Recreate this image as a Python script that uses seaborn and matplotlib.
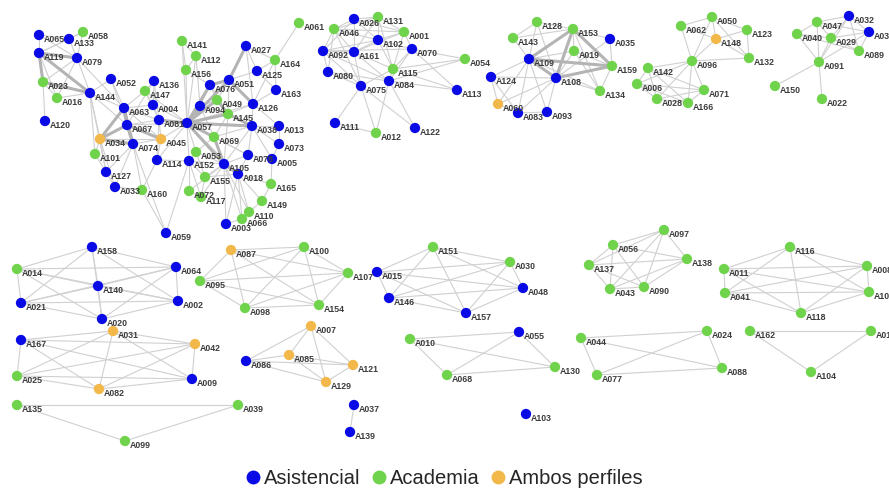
import itertools
import matplotlib
matplotlib.use("Agg")
import matplotlib.pyplot as plt
from matplotlib.collections import LineCollection
from matplotlib.lines import Line2D
import pandas as pd
import seaborn as sns

# layout of the network (node -> position in the drawing)
layout = {
    "A065": (39, 35), "A133": (69, 39), "A058": (83, 32), "A119": (39, 53), "A079": (77, 58),
    "A023": (43, 82), "A016": (57, 98), "A144": (90, 93), "A120": (45, 121), "A052": (111, 79),
    "A136": (154, 81), "A147": (145, 91), "A004": (153, 105), "A063": (124, 108), "A067": (127, 125),
    "A081": (159, 120), "A057": (187, 123), "A034": (100, 139), "A045": (161, 139), "A074": (133, 144),
    "A101": (95, 154), "A114": (157, 160), "A127": (106, 172), "A033": (115, 187), "A160": (142, 190),
    "A059": (166, 233), "A141": (182, 41), "A112": (196, 56), "A156": (186, 70), "A076": (210, 85),
    "A094": (200, 106), "A049": (217, 100), "A051": (229, 80), "A027": (246, 46), "A125": (257, 71),
    "A164": (275, 60), "A163": (276, 90), "A126": (253, 104), "A145": (228, 114), "A038": (252, 126),
    "A013": (279, 126), "A073": (279, 144), "A078": (248, 155), "A005": (272, 159), "A069": (214, 137),
    "A053": (196, 152), "A152": (189, 161), "A105": (224, 164), "A018": (238, 174), "A155": (205, 177),
    "A072": (189, 191), "A117": (201, 197), "A165": (271, 184), "A149": (262, 201), "A110": (249, 212),
    "A066": (242, 219), "A003": (226, 224), "A061": (299, 23),
    "A046": (334, 29), "A026": (354, 19), "A131": (378, 17), "A001": (404, 32), "A102": (378, 40),
    "A092": (323, 51), "A161": (354, 52), "A070": (412, 49), "A080": (328, 72), "A115": (393, 69),
    "A084": (389, 81), "A075": (361, 86), "A111": (335, 123), "A012": (376, 133), "A122": (415, 128),
    "A054": (465, 59), "A113": (457, 90),
    "A128": (537, 22), "A153": (573, 29), "A143": (513, 38), "A035": (610, 39), "A019": (574, 51),
    "A109": (529, 59), "A159": (612, 66), "A124": (491, 77), "A108": (556, 78), "A134": (600, 91),
    "A060": (498, 104), "A083": (518, 113), "A093": (547, 112),
    "A050": (712, 17), "A062": (681, 26), "A123": (747, 30), "A148": (716, 39), "A132": (749, 58),
    "A096": (692, 61), "A142": (648, 68), "A006": (637, 84), "A028": (657, 99), "A166": (688, 103),
    "A071": (704, 90),
    "A047": (817, 22), "A032": (849, 16), "A040": (797, 34), "A029": (831, 38), "A036": (869, 32),
    "A089": (859, 51), "A091": (819, 62), "A150": (775, 86), "A022": (822, 99),
    "A158": (92, 247), "A014": (17, 269), "A064": (176, 267), "A140": (98, 286), "A021": (21, 303),
    "A002": (178, 301), "A020": (102, 319), "A031": (113, 331), "A167": (21, 340), "A042": (195, 344),
    "A025": (17, 376), "A009": (192, 379), "A082": (99, 389), "A135": (17, 405), "A099": (125, 441),
    "A039": (238, 405), "A087": (231, 250), "A100": (304, 247), "A107": (348, 273), "A095": (200, 281),
    "A098": (245, 308), "A154": (319, 305), "A007": (311, 326), "A085": (289, 355), "A086": (246, 361),
    "A121": (353, 365), "A129": (326, 382), "A037": (354, 405), "A139": (350, 432), "A015": (377, 272),
    "A146": (389, 298), "A151": (433, 247), "A030": (510, 262), "A048": (523, 288), "A157": (466, 313),
    "A010": (410, 339), "A055": (519, 332), "A068": (447, 375), "A130": (555, 367), "A103": (526, 414),
    "A056": (613, 245), "A137": (589, 265), "A043": (610, 289), "A090": (644, 287), "A097": (664, 230),
    "A138": (687, 259), "A044": (581, 338), "A077": (597, 375), "A024": (707, 331), "A088": (722, 368),
    "A011": (724, 269), "A041": (725, 293), "A116": (790, 247), "A008": (867, 266), "A106": (869, 292),
    "A118": (801, 313), "A162": (750, 331), "A017": (871, 331), "A104": (811, 372),
}

asistencial = [
    "A065", "A133", "A119", "A079", "A144", "A120", "A052", "A136", "A004", "A063", "A067", "A081",
    "A057", "A074", "A114", "A127", "A033", "A059", "A076", "A094", "A051", "A027", "A125", "A163",
    "A126", "A038", "A013", "A073", "A078", "A005", "A152", "A105", "A018", "A003",
    "A026", "A102", "A092", "A161", "A070", "A080", "A084", "A075", "A111", "A122", "A113",
    "A035", "A109", "A124", "A108", "A083", "A093", "A032", "A036",
    "A158", "A064", "A140", "A021", "A002", "A020", "A167", "A009", "A086", "A037", "A139",
    "A015", "A146", "A048", "A157", "A055", "A103",
]
ambos = ["A034", "A045", "A060", "A148", "A031", "A042", "A082", "A087", "A007", "A085", "A121", "A129"]

# strong ties in the large component
thick_edges = [
    ("A119", "A079"), ("A119", "A023"), ("A119", "A144"), ("A023", "A144"),
    ("A063", "A067"), ("A063", "A034"), ("A063", "A074"), ("A067", "A034"), ("A067", "A074"),
    ("A067", "A045"), ("A034", "A074"), ("A081", "A057"), ("A057", "A094"), ("A057", "A076"),
    ("A057", "A051"), ("A057", "A049"), ("A057", "A145"), ("A057", "A038"), ("A057", "A069"),
    ("A057", "A105"), ("A076", "A051"), ("A051", "A027"), ("A051", "A126"), ("A049", "A145"),
    ("A145", "A038"), ("A069", "A105"), ("A105", "A018"),
    ("A153", "A109"), ("A153", "A108"), ("A153", "A159"), ("A109", "A108"), ("A109", "A159"),
    ("A108", "A159"),
]

edges = [
    ("A065", "A133"), ("A065", "A119"), ("A065", "A079"), ("A133", "A058"), ("A133", "A119"),
    ("A133", "A079"), ("A058", "A079"), ("A058", "A119"), ("A119", "A016"), ("A079", "A023"),
    ("A079", "A016"), ("A079", "A144"), ("A023", "A016"), ("A016", "A144"), ("A023", "A120"),
    ("A079", "A063"), ("A144", "A063"), ("A144", "A034"), ("A144", "A067"), ("A144", "A127"),
    ("A144", "A101"), ("A052", "A063"), ("A052", "A067"), ("A052", "A144"), ("A136", "A147"),
    ("A136", "A004"), ("A136", "A067"), ("A136", "A081"), ("A147", "A063"), ("A147", "A004"),
    ("A147", "A081"), ("A147", "A057"), ("A063", "A045"), ("A063", "A081"), ("A063", "A004"),
    ("A067", "A081"), ("A067", "A057"), ("A034", "A101"), ("A034", "A127"), ("A034", "A033"),
    ("A034", "A045"), ("A074", "A045"), ("A074", "A127"), ("A074", "A033"), ("A074", "A160"),
    ("A074", "A059"), ("A045", "A081"), ("A045", "A114"), ("A045", "A057"), ("A004", "A081"),
    ("A004", "A057"), ("A057", "A114"), ("A057", "A152"), ("A057", "A053"), ("A057", "A078"),
    ("A057", "A018"), ("A057", "A126"), ("A057", "A141"), ("A057", "A156"), ("A057", "A112"),
    ("A141", "A156"), ("A141", "A112"), ("A112", "A156"), ("A156", "A076"), ("A112", "A094"),
    ("A076", "A094"), ("A076", "A049"), ("A076", "A145"), ("A051", "A125"), ("A051", "A049"),
    ("A051", "A145"), ("A027", "A125"), ("A027", "A126"), ("A027", "A164"), ("A125", "A164"),
    ("A125", "A163"), ("A164", "A163"), ("A164", "A126"), ("A164", "A061"), ("A126", "A145"),
    ("A126", "A038"), ("A126", "A163"), ("A126", "A013"), ("A049", "A094"), ("A094", "A145"),
    ("A094", "A069"), ("A145", "A069"), ("A145", "A105"), ("A038", "A013"), ("A038", "A073"),
    ("A038", "A078"), ("A038", "A105"), ("A038", "A069"), ("A038", "A005"), ("A013", "A073"),
    ("A073", "A005"), ("A078", "A005"), ("A078", "A105"), ("A078", "A018"), ("A069", "A053"),
    ("A069", "A078"), ("A053", "A152"), ("A053", "A105"), ("A053", "A155"), ("A152", "A105"),
    ("A152", "A155"), ("A152", "A072"), ("A152", "A117"), ("A152", "A059"), ("A105", "A155"),
    ("A105", "A072"), ("A105", "A117"), ("A105", "A003"), ("A105", "A066"), ("A105", "A110"),
    ("A018", "A165"), ("A018", "A149"), ("A018", "A110"), ("A018", "A066"), ("A018", "A003"),
    ("A018", "A155"), ("A165", "A149"), ("A149", "A110"), ("A110", "A066"), ("A066", "A003"),
    ("A155", "A117"), ("A072", "A117"), ("A114", "A152"), ("A114", "A160"), ("A101", "A127"),
    ("A127", "A033"), ("A033", "A160"), ("A160", "A059"), ("A114", "A081"), ("A005", "A165"),
    # second component
    ("A046", "A026"), ("A046", "A131"), ("A046", "A001"), ("A046", "A102"), ("A046", "A092"),
    ("A046", "A161"), ("A046", "A080"), ("A046", "A075"), ("A026", "A131"), ("A026", "A102"),
    ("A026", "A092"), ("A026", "A161"), ("A026", "A001"), ("A131", "A001"), ("A131", "A102"),
    ("A131", "A161"), ("A131", "A115"), ("A001", "A102"), ("A001", "A070"), ("A001", "A115"),
    ("A001", "A161"), ("A102", "A161"), ("A102", "A092"), ("A102", "A070"), ("A102", "A115"),
    ("A092", "A161"), ("A092", "A080"), ("A092", "A075"), ("A092", "A084"), ("A161", "A075"),
    ("A161", "A084"), ("A161", "A115"), ("A070", "A115"), ("A070", "A084"), ("A070", "A054"),
    ("A080", "A075"), ("A080", "A084"), ("A115", "A084"), ("A115", "A075"), ("A115", "A054"),
    ("A115", "A113"), ("A084", "A113"), ("A075", "A111"), ("A075", "A012"), ("A084", "A012"),
    ("A084", "A122"), ("A075", "A122"), ("A092", "A070"), ("A070", "A113"), ("A084", "A054"),
    ("A111", "A012"),
    # third component
    ("A128", "A143"), ("A128", "A153"), ("A128", "A109"), ("A128", "A108"), ("A143", "A153"),
    ("A143", "A109"), ("A153", "A019"), ("A153", "A035"), ("A019", "A109"), ("A019", "A108"),
    ("A019", "A159"), ("A019", "A134"), ("A035", "A159"), ("A035", "A108"), ("A108", "A134"),
    ("A159", "A134"), ("A109", "A060"), ("A109", "A083"), ("A109", "A093"), ("A108", "A083"),
    ("A108", "A093"), ("A108", "A060"), ("A124", "A083"), ("A124", "A060"), ("A060", "A083"),
    ("A083", "A093"), ("A124", "A108"), ("A124", "A109"), ("A109", "A134"), ("A153", "A134"),
    # fourth component
    ("A062", "A050"), ("A062", "A148"), ("A062", "A096"), ("A050", "A148"), ("A050", "A123"),
    ("A050", "A132"), ("A050", "A096"), ("A123", "A148"), ("A123", "A132"), ("A148", "A132"),
    ("A148", "A096"), ("A096", "A132"), ("A096", "A142"), ("A096", "A006"), ("A096", "A028"),
    ("A096", "A166"), ("A096", "A071"), ("A142", "A006"), ("A142", "A028"), ("A142", "A071"),
    ("A142", "A166"), ("A006", "A028"), ("A006", "A166"), ("A006", "A071"), ("A028", "A166"),
    ("A028", "A071"), ("A166", "A071"),
    # fifth component
    ("A047", "A032"), ("A047", "A040"), ("A047", "A029"), ("A047", "A091"), ("A032", "A029"),
    ("A032", "A036"), ("A032", "A091"), ("A032", "A089"), ("A040", "A029"), ("A040", "A089"),
    ("A040", "A091"), ("A029", "A036"), ("A029", "A089"), ("A029", "A091"), ("A036", "A089"),
    ("A036", "A091"), ("A091", "A150"), ("A091", "A022"), ("A047", "A036"),
    ("A037", "A139"),
]

# small groups where everybody is linked with everybody
cliques = [
    ["A158", "A014", "A064", "A140", "A021", "A002", "A020"],
    ["A031", "A167", "A042", "A025", "A009", "A082"],
    ["A135", "A039", "A099"],
    ["A087", "A100", "A107", "A095", "A098", "A154"],
    ["A007", "A085", "A086", "A121", "A129"],
    ["A151", "A015", "A146", "A030", "A048", "A157"],
    ["A010", "A055", "A068", "A130"],
    ["A044", "A077", "A024", "A088"],
    ["A056", "A137", "A043", "A090", "A097", "A138"],
    ["A011", "A041", "A116", "A008", "A106", "A118"],
    ["A162", "A017", "A104"],
]

labels = ["Asistencial", "Academia", "Ambos perfiles"]
colors = {"Asistencial": "#0a0ae6", "Academia": "#6fd44c", "Ambos perfiles": "#f3b84a"}

for group in cliques:
    edges += list(itertools.combinations(group, 2))

nodes = pd.DataFrame({"id": list(layout)})
nodes["x"] = [layout[n][0] for n in nodes["id"]]
nodes["y"] = [layout[n][1] for n in nodes["id"]]
nodes["perfil"] = ["Asistencial" if n in asistencial else "Ambos perfiles" if n in ambos else "Academia"
                   for n in nodes["id"]]

sns.set_style("white")
fig = plt.figure(figsize=(8.89, 4.91), dpi=100)
ax = fig.add_axes([0, 0, 1, 1])

thin = [[layout[a], layout[b]] for a, b in edges]
thick = [[layout[a], layout[b]] for a, b in thick_edges]
ax.add_collection(LineCollection(thin, colors="#d0d0d0", linewidths=0.8, zorder=1))
ax.add_collection(LineCollection(thick, colors="#b4b4b4", linewidths=2.2, zorder=1))

sns.scatterplot(data=nodes, x="x", y="y", hue="perfil", palette=colors, s=55,
                edgecolor="none", legend=False, ax=ax, zorder=3)

for _, r in nodes.iterrows():
    ax.text(r["x"] + 5, r["y"] + 4.5, r["id"], fontsize=6.3, fontweight="bold",
            color="#3c3c3c", ha="left", va="center", family="Liberation Sans", zorder=4)

ax.set_xlim(0, 889)
ax.set_ylim(491, 0)
ax.axis("off")

handles = [Line2D([], [], marker="o", linestyle="none", markersize=10,
                  markerfacecolor=colors[k], markeredgecolor="none") for k in labels]
fig.legend(handles, labels, loc="center", bbox_to_anchor=(444 / 889, 1 - 479 / 491), ncol=3,
           frameon=False, handlelength=0.8, handletextpad=0.15, columnspacing=0.5,
           prop={"family": "Liberation Sans", "size": 14.5})

fig.savefig("out.png", dpi=100, facecolor="white")
